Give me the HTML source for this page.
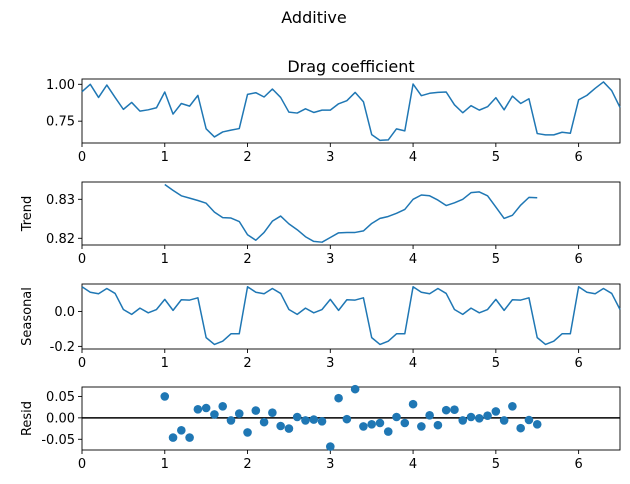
<!DOCTYPE html>
<html><head><meta charset="utf-8">
<style>
body{margin:0;background:#fff;}
svg{display:block;font-family:"DejaVu Sans","Liberation Sans",sans-serif;}
</style></head>
<body>
<svg id="chart" width="630" height="484" viewBox="0 0 630 484" xmlns="http://www.w3.org/2000/svg">
<text x="314" y="23" font-size="16" text-anchor="middle">Additive</text>
<text x="351" y="72" font-size="16" text-anchor="middle">Drag coefficient</text>
</svg>
<script>
const observed = [0.95,1.00,0.911,0.995,0.911,0.83,0.877,0.818,0.827,0.841,0.948,0.798,0.870,0.852,0.925,0.698,0.643,0.677,0.689,0.70,0.932,0.943,0.914,0.968,0.911,0.811,0.805,0.834,0.809,0.825,0.825,0.868,0.889,0.945,0.882,0.659,0.620,0.623,0.698,0.684,1.002,0.923,0.939,0.945,0.948,0.861,0.807,0.855,0.825,0.848,0.909,0.827,0.920,0.870,0.902,0.666,0.657,0.657,0.675,0.668,0.895,0.925,0.973,1.016,0.957,0.843];
const trend = [0.8338,0.8323,0.8309,0.8303,0.8297,0.829,0.8267,0.8253,0.8252,0.8243,0.8209,0.8195,0.8215,0.8244,0.8257,0.8237,0.8222,0.8204,0.8192,0.819,0.8202,0.8214,0.8215,0.8215,0.8219,0.8238,0.8251,0.8256,0.8264,0.8274,0.830,0.8311,0.8309,0.8298,0.8284,0.8291,0.830,0.8317,0.8319,0.8309,0.828,0.8251,0.8259,0.8285,0.8305,0.8304];
const seasonalCycle = [0.141,0.110,0.101,0.131,0.103,0.011,-0.017,0.019,-0.008,0.011,0.069,0.006,0.067,0.065,0.078,-0.150,-0.189,-0.170,-0.128,-0.128];
const resid = [0.050,-0.046,-0.029,-0.046,0.020,0.023,0.008,0.027,-0.006,0.010,-0.034,0.017,-0.010,0.012,-0.019,-0.025,0.002,-0.006,-0.004,-0.008,-0.067,0.046,-0.003,0.067,-0.020,-0.015,-0.012,-0.032,0.002,-0.012,0.032,-0.020,0.006,-0.017,0.018,0.019,-0.006,0.002,-0.001,0.005,0.015,-0.006,0.027,-0.024,-0.005,-0.015];
const xTicks = [0,1,2,3,4,5,6];
const obsTicks = [1.00,0.75];
const trendTicks = [0.83,0.82];
const seasTicks = [0.0,-0.2];
const residTicks = [0.05,0.00,-0.05];
const step = 0.1, trendStart = 10;

const svg = document.getElementById('chart');
const NS = 'http://www.w3.org/2000/svg';
const X0 = 82, X1 = 620, XMIN = 0, XMAX = 6.5;
function xs(v){ return X0 + (v - XMIN) / (XMAX - XMIN) * (X1 - X0); }
function mk(tag, attrs){ const e = document.createElementNS(NS, tag); for (const k in attrs) e.setAttribute(k, attrs[k]); svg.appendChild(e); return e; }

function panel(name, top, bot, ymin, ymax, ticks, fmt, label){
  const ys = v => bot - (v - ymin) / (ymax - ymin) * (bot - top);
  const r = mk('rect', {x: X0, y: top, width: X1 - X0, height: bot - top, fill: 'none', stroke: '#000', 'stroke-width': 0.9});
  
  
  ticks.forEach(t => {
    const y = ys(t);
    const l = mk('line', {x1: X0 - 4, x2: X0, y1: y, y2: y, stroke: '#000', 'stroke-width': 0.9});
    
    
    const tx = mk('text', {x: X0 - 7, y: y + 4.5, 'font-size': 13, 'text-anchor': 'end'});
    tx.textContent = fmt(t);
    
    
  });
  xTicks.forEach(t => {
    const x = xs(t);
    const l = mk('line', {x1: x, x2: x, y1: bot, y2: bot + 4, stroke: '#000', 'stroke-width': 0.9});
    
    
    const tx = mk('text', {x: x, y: bot + 18, 'font-size': 13, 'text-anchor': 'middle'});
    tx.textContent = String(t);
    
    
  });
  if (label){
    const cy = (top + bot) / 2;
    const tx = mk('text', {x: 0, y: 0, 'font-size': 13, 'text-anchor': 'middle', transform: 'translate(31,' + cy + ') rotate(-90)'});
    tx.textContent = label;
    
    
  }
  return ys;
}
function line(name, ys, vals, start){
  const pts = vals.map((v, i) => xs((start + i) * step).toFixed(2) + ',' + ys(v).toFixed(2)).join(' ');
  const p = mk('polyline', {points: pts, fill: 'none', stroke: '#1f77b4', 'stroke-width': 1.5, 'stroke-linejoin': 'round'});
  
  
}

const ys1 = panel('observed', 79, 143, 0.602, 1.036, obsTicks, v => v.toFixed(2), '');
line('observed-line', ys1, observed, 0);

const ys2 = panel('trend', 182, 245, 0.81828, 0.83444, trendTicks, v => v.toFixed(2), 'Trend');
line('trend-line', ys2, trend, trendStart);

const seasonal = observed.map((_, i) => seasonalCycle[i % seasonalCycle.length]);
const ys3 = panel('seasonal', 284, 349, -0.215, 0.157, seasTicks, v => v.toFixed(1), 'Seasonal');
line('seasonal-line', ys3, seasonal, 0);

const ys4 = panel('resid', 387, 450, -0.075, 0.072, residTicks, v => v.toFixed(2), 'Resid');
const zl = mk('line', {x1: X0, x2: X1, y1: ys4(0), y2: ys4(0), stroke: '#000', 'stroke-width': 1.5});


resid.forEach((v, i) => {
  const c = mk('circle', {cx: xs((trendStart + i) * step), cy: ys4(v), r: 4.3, fill: '#1f77b4'});
  
  
});
</script>
</body></html>
